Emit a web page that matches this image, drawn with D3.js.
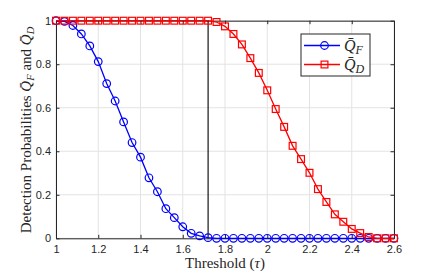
<!DOCTYPE html>
<html>
<head>
<meta charset="utf-8">
<script src="https://cdn.jsdelivr.net/npm/d3@7"></script>
<style>
body { margin: 0; background: #fff; }
svg { display: block; }
.tick text { font-family: "Liberation Sans", Arial, sans-serif; font-size: 11px; fill: #262626; }
.lbl { font-family: "Liberation Serif", "DejaVu Serif", serif; font-size: 15px; fill: #262626; }
</style>
</head>
<body>
<svg width="436" height="273"></svg>
<script>
'use strict';

// threshold values (tau)
var tau = [1.00, 1.04, 1.08, 1.12, 1.16, 1.20, 1.24, 1.28, 1.32, 1.36,
	1.40, 1.44, 1.48, 1.52, 1.56, 1.60, 1.64, 1.68, 1.72, 1.76,
	1.80, 1.84, 1.88, 1.92, 1.96, 2.00, 2.04, 2.08, 2.12, 2.16,
	2.20, 2.24, 2.28, 2.32, 2.36, 2.40, 2.44, 2.48, 2.52, 2.56, 2.60];

var qF = [1, 0.997, 0.978, 0.939, 0.884, 0.812, 0.711, 0.631, 0.535, 0.440,
	0.373, 0.278, 0.214, 0.136, 0.095, 0.053, 0.023, 0.011, 0.003, 0,
	0, 0, 0, 0, 0, 0, 0, 0, 0, 0,
	0, 0, 0, 0, 0, 0, 0, 0, 0, 0, 0];

var qD = [1, 1, 1, 1, 1, 1, 1, 1, 1, 1,
	1, 1, 1, 1, 1, 1, 1, 1, 1, 0.994,
	0.974, 0.939, 0.891, 0.828, 0.760, 0.680, 0.594, 0.512, 0.425, 0.364,
	0.301, 0.226, 0.167, 0.110, 0.076, 0.043, 0.024, 0.006, 0, 0, 0];

var xTicks = [1, 1.2, 1.4, 1.6, 1.8, 2, 2.2, 2.4, 2.6];
var yTicks = [0, 0.2, 0.4, 0.6, 0.8, 1];
var tauStar = 1.72;

var mLeft = 56, mTop = 20.7, w = 338, h = 217.6;
var svg = d3.select("svg");
var g = svg.append("g").attr("transform", "translate(" + mLeft + "," + mTop + ")");

var x = d3.scaleLinear().domain([1, 2.6]).range([0, w]);
var y = d3.scaleLinear().domain([0, 1]).range([h, 0]);

// grid
g.selectAll(".gx").data(xTicks).enter().append("line")
	.attr("x1", d => x(d)).attr("x2", d => x(d)).attr("y1", 0).attr("y2", h)
	.style("stroke", "#e3e3e3").style("stroke-width", 1);
g.selectAll(".gy").data(yTicks).enter().append("line")
	.attr("y1", d => y(d)).attr("y2", d => y(d)).attr("x1", 0).attr("x2", w)
	.style("stroke", "#e3e3e3").style("stroke-width", 1);

// axes (matlab style, ticks inside on all sides)
function fmt(d) { return d3.format("~g")(d); }
var ax = [
	[d3.axisBottom(x).tickValues(xTicks).tickFormat(fmt), "translate(0," + h + ")", 7],
	[d3.axisTop(x).tickValues(xTicks).tickFormat(""), "translate(0,0)", 7],
	[d3.axisLeft(y).tickValues(yTicks).tickFormat(fmt), "translate(0,0)", 5],
	[d3.axisRight(y).tickValues(yTicks).tickFormat(""), "translate(" + w + ",0)", 5]
];
ax.forEach(function (a) {
	var s = g.append("g").attr("transform", a[1])
		.call(a[0].tickSizeInner(-3.5).tickSizeOuter(0).tickPadding(a[2]));
	s.select(".domain").style("stroke", "#262626");
	s.selectAll(".tick line").style("stroke", "#262626");
});

// vertical line at optimal threshold
g.append("line")
	.attr("x1", x(tauStar)).attr("x2", x(tauStar)).attr("y1", 0).attr("y2", h)
	.style("stroke", "#000").style("stroke-width", 1.1);

var line = d3.line().x(d => x(d[0])).y(d => y(d[1]));
var fPts = tau.map((t, i) => [t, qF[i]]);
var dPts = tau.map((t, i) => [t, qD[i]]);

g.append("path").datum(fPts).attr("d", line)
	.style("fill", "none").style("stroke", "#0000ff").style("stroke-width", 1.3);
g.selectAll(".cf").data(fPts).enter().append("circle")
	.attr("cx", d => x(d[0])).attr("cy", d => y(d[1])).attr("r", 3.8)
	.style("fill", "none").style("stroke", "#0000ff").style("stroke-width", 1.2);

g.append("path").datum(dPts).attr("d", line)
	.style("fill", "none").style("stroke", "#ff0000").style("stroke-width", 1.3);
g.selectAll(".sd").data(dPts).enter().append("rect")
	.attr("x", d => x(d[0]) - 3.4).attr("y", d => y(d[1]) - 3.4)
	.attr("width", 6.8).attr("height", 6.8)
	.style("fill", "none").style("stroke", "#ff0000").style("stroke-width", 1.2);

// legend
var lg = svg.append("g").attr("transform", "translate(301,34)");
lg.append("rect").attr("width", 69).attr("height", 42)
	.style("fill", "#fff").style("stroke", "#262626").style("stroke-width", 1);
var items = [["F", "#0000ff", "circle"], ["D", "#ff0000", "square"]];
items.forEach(function (it, i) {
	var yy = 11.5 + i * 19;
	lg.append("line").attr("x1", 3).attr("x2", 39).attr("y1", yy).attr("y2", yy)
		.style("stroke", it[1]).style("stroke-width", 1.3);
	if (it[2] == "circle")
		lg.append("circle").attr("cx", 23.5).attr("cy", yy).attr("r", 3.8)
			.style("fill", "none").style("stroke", it[1]).style("stroke-width", 1.2);
	else
		lg.append("rect").attr("x", 20.1).attr("y", yy - 3.4).attr("width", 6.8).attr("height", 6.8)
			.style("fill", "none").style("stroke", it[1]).style("stroke-width", 1.2);
	var t = lg.append("text").attr("class", "lbl").attr("x", 43).attr("y", yy + 5)
		.style("font-size", "16px");
	t.append("tspan").style("font-style", "italic").text("Q\u0304");
	t.append("tspan").attr("dy", 3).style("font-size", "12px").style("font-style", "italic").text(it[0]);
});

// axis labels
svg.append("text").attr("class", "lbl").attr("x", 225).attr("y", 268)
	.attr("text-anchor", "middle")
	.html('Threshold (<tspan font-style="italic">τ</tspan>)');

var yl = svg.append("text").attr("class", "lbl")
	.attr("transform", "translate(31," + 130 + ") rotate(-90)")
	.attr("text-anchor", "middle");
yl.append("tspan").text("Detection Probabilities ");
yl.append("tspan").style("font-style", "italic").text("Q\u0304");
yl.append("tspan").attr("dy", 3).style("font-size", "10.5px").style("font-style", "italic").text("F");
yl.append("tspan").attr("dy", -3).text(" and ");
yl.append("tspan").style("font-style", "italic").text("Q\u0304");
yl.append("tspan").attr("dy", 3).style("font-size", "10.5px").style("font-style", "italic").text("D");
</script>
</body>
</html>
